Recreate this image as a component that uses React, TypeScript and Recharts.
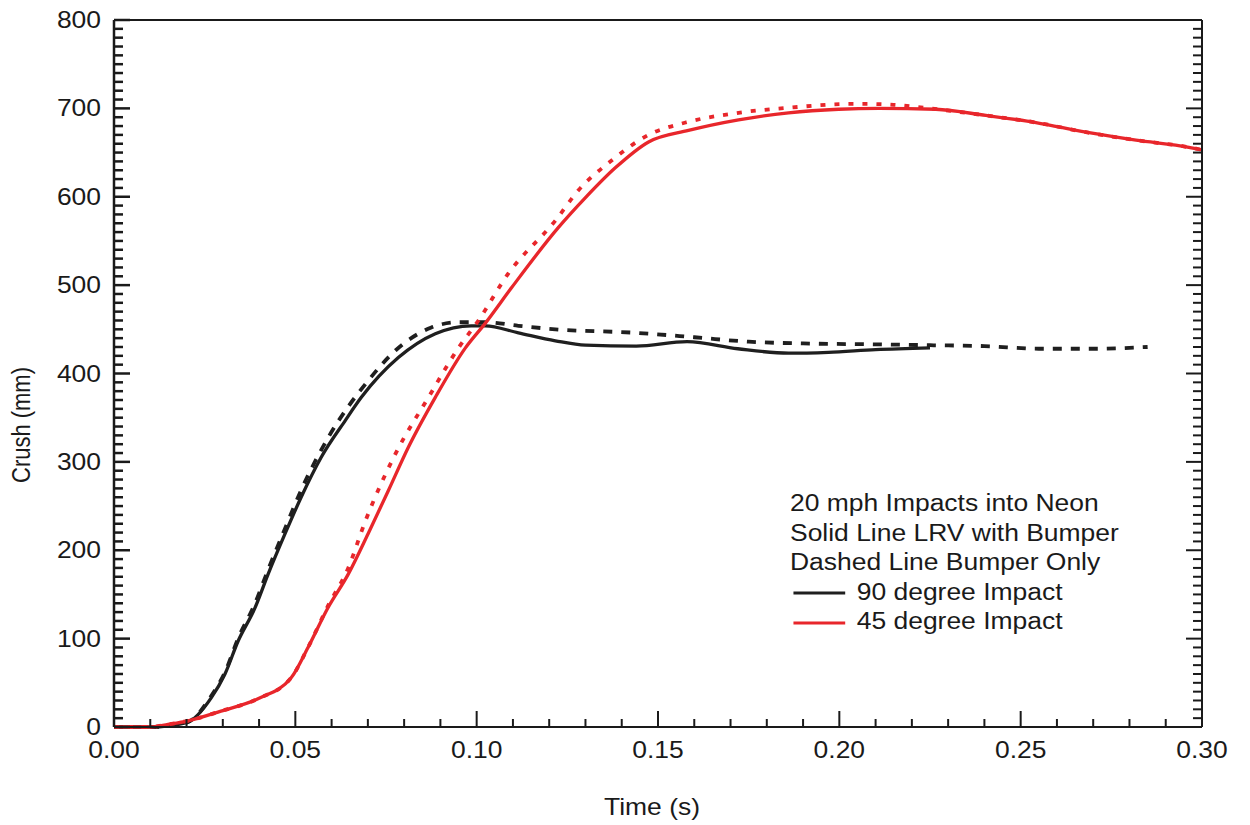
import { LineChart, Line, XAxis, YAxis, Legend, Label } from 'recharts';

// 90 degree impact, LRV with bumper (solid black)
const timeLrv90 = [0, 0.01, 0.02, 0.0268, 0.0306, 0.0342, 0.0389, 0.0425, 0.0472, 0.0516, 0.0571, 0.0638, 0.0682, 0.0784, 0.0886, 0.0985, 0.1024, 0.1115, 0.1217, 0.13, 0.144, 0.158, 0.172, 0.186, 0.197, 0.21, 0.225];
const crushLrv90 = [0, 0, 5, 33, 60, 97, 135, 173, 219, 260, 305, 347, 373, 418, 445, 454, 454, 446, 437, 432, 431, 436, 428, 423, 424, 427, 429];

// 90 degree impact, bumper only (dashed black)
const timeBumper90 = [0, 0.01, 0.02, 0.0268, 0.0306, 0.0342, 0.0389, 0.0425, 0.0472, 0.0516, 0.059, 0.0701, 0.0776, 0.0875, 0.095, 0.1024, 0.1115, 0.1217, 0.144, 0.16, 0.175, 0.19, 0.21, 0.225, 0.24, 0.255, 0.27, 0.285];
const crushBumper90 = [0, 0, 5, 35, 62, 100, 140, 178, 225, 268, 327, 392, 426, 452, 458, 458, 454, 450, 446, 441, 436, 434, 433, 432, 431, 428, 428, 430];

// 45 degree impact, LRV with bumper (solid red)
const timeLrv45 = [0, 0.01, 0.0149, 0.0204, 0.0295, 0.0397, 0.0489, 0.0535, 0.059, 0.0646, 0.0701, 0.0756, 0.0811, 0.0886, 0.0969, 0.1024, 0.1096, 0.1225, 0.13, 0.1383, 0.1474, 0.1584, 0.1722, 0.186, 0.1998, 0.2109, 0.2266, 0.2404, 0.2542, 0.268, 0.2818, 0.2964, 0.3];
const crushLrv45 = [0, 0, 3, 7, 18, 32, 56, 90, 135, 173, 219, 267, 316, 373, 429, 457, 497, 565, 599, 633, 662, 675, 687, 695, 699, 700, 699, 692, 684, 673, 664, 656, 653];

// 45 degree impact, bumper only (dashed red)
const timeBumper45 = [0, 0.01, 0.0149, 0.0204, 0.0295, 0.0397, 0.0489, 0.0535, 0.059, 0.0646, 0.0693, 0.0776, 0.0867, 0.095, 0.1005, 0.1087, 0.1217, 0.128, 0.1372, 0.1474, 0.1576, 0.1722, 0.1869, 0.2026, 0.2081, 0.215, 0.225, 0.2404, 0.2542, 0.268, 0.2818, 0.2964, 0.3];
const crushBumper45 = [0, 0, 3, 7, 18, 32, 56, 90, 137, 180, 233, 309, 373, 429, 460, 513, 573, 607, 641, 670, 684, 695, 701, 705, 705, 704, 700, 692, 684, 673, 664, 656, 653];

const xMajorTicks = [0, 0.05, 0.1, 0.15, 0.2, 0.25, 0.3];
const yMajorTicks = [0, 100, 200, 300, 400, 500, 600, 700, 800];
const legendTitle = ['20 mph Impacts into Neon', 'Solid Line LRV with Bumper', 'Dashed Line Bumper Only'];
const legendEntries = [
  { label: '90 degree Impact', color: '#1f1f1f' },
  { label: '45 degree Impact', color: '#e8262b' },
];

const toPoints = (t: number[], c: number[]) => t.map((v, i) => ({ t: v, crush: c[i] }));

const lrv90 = toPoints(timeLrv90, crushLrv90);
const bumper90 = toPoints(timeBumper90, crushBumper90);
const lrv45 = toPoints(timeLrv45, crushLrv45);
const bumper45 = toPoints(timeBumper45, crushBumper45);

// minor ticks every 0.01 s and 10 mm
const xTicks = Array.from({ length: 31 }, (_, i) => i / 100);
const yTicks = Array.from({ length: 81 }, (_, i) => i * 10);

const FONT = '"Liberation Sans", Arial, Helvetica, sans-serif';
const STRETCH = 1.15;
const INK = '#1a1a1a';
const BLACK = '#1f1f1f';
const RED = '#e8262b';

const isMajorX = (v: number) => xMajorTicks.some((m) => Math.abs(m - v) < 1e-6);
const isMajorY = (v: number) => yMajorTicks.includes(Math.round(v));

const BottomTick = (props: any) => {
  const { x, y, payload } = props;
  const major = isMajorX(payload.value);
  return (
    <g>
      <line x1={x} y1={y} x2={x} y2={y - (major ? 16 : 8)} stroke={INK} strokeWidth={2} />
      {major && (
        <text
          transform={`translate(${x},${y + 31}) scale(${STRETCH},1)`}
          textAnchor="middle"
          fontSize={23}
          fontFamily={FONT}
          fill={INK}
        >
          {payload.value.toFixed(2)}
        </text>
      )}
    </g>
  );
};

const TopTick = (props: any) => {
  const { x, y, payload } = props;
  const major = isMajorX(payload.value);
  return <line x1={x} y1={y} x2={x} y2={y + (major ? 16 : 8)} stroke={INK} strokeWidth={2} />;
};

const LeftTick = (props: any) => {
  const { x, y, payload } = props;
  const major = isMajorY(payload.value);
  return (
    <g>
      <line x1={x} y1={y} x2={x + (major ? 16 : 9)} y2={y} stroke={INK} strokeWidth={2.5} />
      {major && (
        <text
          transform={`translate(${x - 13},${y + 8}) scale(${STRETCH},1)`}
          textAnchor="end"
          fontSize={23}
          fontFamily={FONT}
          fill={INK}
        >
          {payload.value}
        </text>
      )}
    </g>
  );
};

const RightTick = (props: any) => {
  const { x, y, payload } = props;
  const major = isMajorY(payload.value);
  return <line x1={x} y1={y} x2={x - (major ? 16 : 9)} y2={y} stroke={INK} strokeWidth={2} />;
};

const renderLegend = () => (
  <div
    style={{
      fontFamily: FONT,
      fontSize: 23,
      lineHeight: '29.5px',
      color: INK,
      transform: `scaleX(${STRETCH})`,
      transformOrigin: 'left top',
      whiteSpace: 'nowrap',
    }}
  >
    {legendTitle.map((line) => (
      <div key={line}>{line}</div>
    ))}
    {legendEntries.map((e) => (
      <div key={e.label}>
        <svg width={58} height={10} style={{ verticalAlign: 'middle' }}>
          <line x1={3} y1={5} x2={48} y2={5} stroke={e.color} strokeWidth={3} />
        </svg>
        {e.label}
      </div>
    ))}
  </div>
);

export default function App() {
  return (
    <div style={{ position: 'absolute', left: 0, top: 0, width: 1250, height: 825, background: '#fff' }}>
      <LineChart width={1250} height={825} margin={{ top: 19, right: 47, bottom: 97, left: 113 }}>
        <XAxis
          dataKey="t"
          type="number"
          domain={[0, 0.3]}
          ticks={xTicks}
          interval={0}
          height={1}
          tickSize={0}
          tickMargin={0}
          tickLine={false}
          tick={<BottomTick />}
          axisLine={{ stroke: INK, strokeWidth: 2 }}
        >
          <Label
            content={(p: any) => (
              <text
                transform={`translate(${p.viewBox.x + p.viewBox.width / 2 - 6},${p.viewBox.y + 88}) scale(${STRETCH},1)`}
                textAnchor="middle"
                fontSize={23}
                fontFamily={FONT}
                fill={INK}
              >
                Time (s)
              </text>
            )}
          />
        </XAxis>
        <XAxis
          xAxisId="top"
          orientation="top"
          type="number"
          domain={[0, 0.3]}
          allowDataOverflow
          ticks={xTicks}
          interval={0}
          height={1}
          tickSize={0}
          tickMargin={0}
          tickLine={false}
          tick={<TopTick />}
          axisLine={{ stroke: INK, strokeWidth: 2 }}
        />
        <YAxis
          type="number"
          domain={[0, 800]}
          ticks={yTicks}
          interval={0}
          width={1}
          tickSize={0}
          tickMargin={0}
          tickLine={false}
          tick={<LeftTick />}
          axisLine={{ stroke: INK, strokeWidth: 2.5 }}
        >
          <Label
            content={(p: any) => (
              <text
                transform={`translate(${p.viewBox.x - 83},${p.viewBox.y + 405}) rotate(-90) scale(1,${STRETCH})`}
                textAnchor="middle"
                fontSize={22}
                fontFamily={FONT}
                fill={INK}
              >
                Crush (mm)
              </text>
            )}
          />
        </YAxis>
        <YAxis
          yAxisId="right"
          orientation="right"
          type="number"
          domain={[0, 800]}
          allowDataOverflow
          ticks={yTicks}
          interval={0}
          width={1}
          tickSize={0}
          tickMargin={0}
          tickLine={false}
          tick={<RightTick />}
          axisLine={{ stroke: INK, strokeWidth: 2 }}
        />
        <Legend
          layout="horizontal"
          verticalAlign="middle"
          align="center"
          wrapperStyle={{ left: 790, top: 489, width: 400 }}
          content={renderLegend}
        />
        <Line data={bumper90} dataKey="crush" type="monotone" stroke={BLACK} strokeWidth={3.8} strokeDasharray="9 9" dot={false} isAnimationActive={false} />
        <Line data={lrv90} dataKey="crush" type="monotone" stroke={BLACK} strokeWidth={3.3} dot={false} isAnimationActive={false} />
        <Line data={bumper45} dataKey="crush" type="monotone" stroke={RED} strokeWidth={3.8} strokeDasharray="5 9" dot={false} isAnimationActive={false} />
        <Line data={lrv45} dataKey="crush" type="monotone" stroke={RED} strokeWidth={3.3} dot={false} isAnimationActive={false} />
      </LineChart>
    </div>
  );
}
